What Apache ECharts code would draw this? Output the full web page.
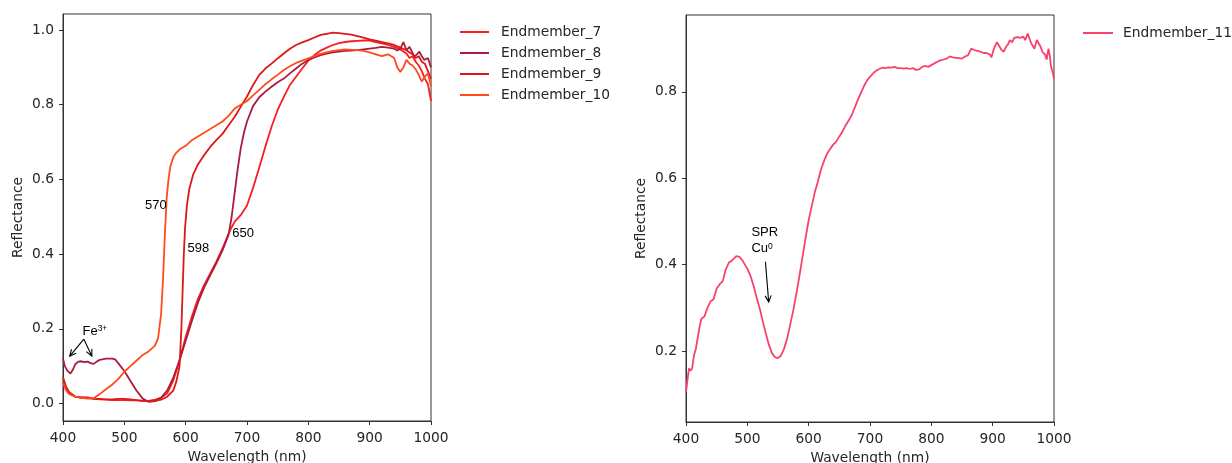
<!DOCTYPE html>
<html>
<head>
<meta charset="utf-8">
<script src="https://cdn.jsdelivr.net/npm/echarts@6/dist/echarts.min.js"></script>
<style>
html,body{margin:0;padding:0;background:#fff;}
#chart{width:1232px;height:463px;}
</style>
</head>
<body>
<div id="chart"></div>
<script>
// ---------- DATA ----------
const xTicks = [400, 500, 600, 700, 800, 900, 1000];
const yTicksLeft = [0.0, 0.2, 0.4, 0.6, 0.8, 1.0];
const yTicksRight = [0.2, 0.4, 0.6, 0.8];

const wl7 = [400,405,410,420,430,440,450,460,470,480,490,500,510,520,530,540,550,560,570,580,590,600,610,620,630,640,650,660,670,675,680,690,700,710,720,730,740,750,760,770,780,790,800,810,820,830,840,850,860,870,880,890,900,910,920,930,940,950,960,965,970,975,980,985,990,995,1000];
const r7  = [0.055,0.04,0.03,0.018,0.017,0.016,0.013,0.011,0.01,0.009,0.009,0.009,0.008,0.008,0.007,0.007,0.01,0.015,0.027,0.062,0.116,0.178,0.232,0.28,0.317,0.348,0.38,0.415,0.455,0.472,0.487,0.505,0.53,0.578,0.632,0.688,0.741,0.786,0.821,0.853,0.875,0.897,0.918,0.933,0.945,0.953,0.96,0.965,0.968,0.97,0.971,0.972,0.972,0.968,0.964,0.96,0.955,0.948,0.937,0.925,0.93,0.915,0.905,0.89,0.87,0.855,0.81];

const wl8 = [400,403,407,412,416,420,425,430,435,440,445,450,455,460,470,480,485,490,500,510,520,530,540,550,560,570,580,590,600,610,620,630,640,650,660,670,675,680,685,690,695,700,710,720,730,740,750,760,770,780,790,800,810,820,830,840,850,860,870,880,890,900,910,920,930,940,945,950,955,960,965,968,973,977,981,985,989,995,1000];
const r8  = [0.12,0.1,0.088,0.08,0.09,0.105,0.112,0.113,0.111,0.112,0.108,0.106,0.112,0.117,0.12,0.12,0.118,0.108,0.087,0.06,0.034,0.013,0.004,0.006,0.016,0.035,0.07,0.115,0.168,0.22,0.27,0.31,0.343,0.375,0.41,0.452,0.5,0.565,0.63,0.685,0.725,0.755,0.797,0.82,0.835,0.848,0.86,0.87,0.884,0.897,0.91,0.92,0.927,0.933,0.937,0.94,0.942,0.944,0.945,0.946,0.948,0.95,0.952,0.955,0.953,0.95,0.945,0.95,0.968,0.946,0.955,0.96,0.929,0.935,0.942,0.93,0.92,0.925,0.9];

const wl9 = [400,405,410,420,430,440,450,460,470,480,490,500,510,520,530,540,550,560,570,580,585,590,593,595,597,599,602,606,612,620,630,640,650,660,670,680,690,700,710,720,730,740,750,760,770,780,790,800,810,820,830,840,850,860,870,880,890,900,910,920,930,940,950,960,965,970,975,980,985,990,995,1000];
const r9  = [0.07,0.045,0.03,0.018,0.015,0.014,0.012,0.012,0.011,0.011,0.012,0.012,0.011,0.009,0.007,0.006,0.007,0.01,0.018,0.035,0.06,0.1,0.2,0.3,0.4,0.47,0.53,0.575,0.612,0.64,0.665,0.687,0.705,0.722,0.745,0.768,0.795,0.822,0.853,0.88,0.897,0.91,0.924,0.937,0.95,0.96,0.967,0.973,0.98,0.987,0.99,0.993,0.992,0.99,0.988,0.984,0.98,0.975,0.972,0.968,0.964,0.96,0.953,0.946,0.94,0.935,0.925,0.93,0.915,0.91,0.89,0.87];

const wl10 = [400,405,410,420,430,440,450,460,470,480,490,500,510,520,530,540,550,555,560,563,566,569,572,575,580,585,590,600,610,620,630,640,650,660,670,680,690,700,710,720,730,740,750,760,770,780,790,800,810,820,830,840,850,860,870,880,890,900,910,920,930,940,945,950,955,960,965,970,975,980,985,990,995,1000];
const r10  = [0.055,0.035,0.025,0.018,0.015,0.013,0.014,0.025,0.038,0.05,0.065,0.085,0.1,0.115,0.13,0.14,0.155,0.175,0.24,0.33,0.45,0.55,0.6,0.635,0.66,0.672,0.68,0.69,0.705,0.715,0.725,0.735,0.745,0.755,0.77,0.79,0.8,0.81,0.825,0.84,0.855,0.868,0.88,0.893,0.903,0.912,0.918,0.924,0.93,0.936,0.94,0.944,0.946,0.948,0.947,0.946,0.944,0.94,0.935,0.93,0.935,0.925,0.9,0.888,0.9,0.92,0.91,0.905,0.895,0.88,0.862,0.875,0.884,0.85];

const wl11 = [400,403,405,408,410,413,416,419,422,425,430,435,440,445,450,455,460,465,470,475,478,482,487,492,497,500,505,510,515,520,525,530,535,540,545,550,555,560,565,570,575,580,585,590,595,600,605,610,615,620,625,630,635,640,645,650,655,660,665,670,675,680,685,690,695,700,705,710,715,720,725,730,735,740,745,750,755,760,765,770,775,780,785,790,795,800,805,810,815,820,825,830,835,840,845,850,855,860,865,870,875,880,885,890,895,898,902,907,910,914,918,922,925,928,932,935,940,945,950,953,957,960,963,966,968,972,975,978,981,983,986,988,991,993,995,998,1000];
const r11  = [0.105,0.14,0.16,0.155,0.16,0.19,0.205,0.205,0.255,0.275,0.28,0.3,0.315,0.32,0.345,0.355,0.362,0.39,0.405,0.41,0.408,0.42,0.418,0.41,0.398,0.391,0.375,0.352,0.325,0.3,0.27,0.242,0.215,0.196,0.186,0.184,0.19,0.206,0.23,0.262,0.295,0.333,0.375,0.418,0.462,0.503,0.535,0.568,0.592,0.62,0.64,0.657,0.668,0.678,0.685,0.697,0.708,0.722,0.733,0.746,0.763,0.781,0.797,0.813,0.826,0.835,0.843,0.849,0.853,0.856,0.855,0.857,0.856,0.858,0.855,0.855,0.854,0.855,0.853,0.855,0.851,0.852,0.858,0.86,0.858,0.862,0.866,0.87,0.873,0.875,0.877,0.882,0.88,0.879,0.878,0.877,0.882,0.885,0.9,0.897,0.895,0.893,0.89,0.89,0.887,0.88,0.9,0.915,0.913,0.898,0.893,0.905,0.91,0.92,0.915,0.925,0.927,0.925,0.928,0.92,0.935,0.932,0.912,0.905,0.9,0.92,0.924,0.905,0.893,0.895,0.885,0.875,0.9,0.885,0.86,0.845,0.83];

const names = ['Endmember_7','Endmember_8','Endmember_9','Endmember_10','Endmember_11'];
const colors = ['#fb1d1d','#a91c3d','#dc1818','#ff4a1c','#f8426c'];

// annotation anchors (data coordinates)
const annLeft = [
  { t: '570', at: [569, 0.531], align: 'right' },
  { t: '598', at: [603, 0.415], align: 'left' },
  { t: '650', at: [676, 0.455], align: 'left' },
  { t: 'Fe{s|3+}', at: [452, 0.194], align: 'center' }
];
const annRight = [
  { t: 'SPR', at: [506.6, 0.475], align: 'left' },
  { t: 'Cu{s|0}', at: [506.6, 0.438], align: 'left' }
];
const arrowsLeft = [[[434, 0.172], [411, 0.127]], [[434, 0.172], [447, 0.127]]];
const arrowsRight = [[[529.5, 0.407], [534.8, 0.314]]];

// ---------- CHART ----------
const zip = (a, b) => a.map((x, i) => [x, b[i]]);
const tickFont = { fontFamily: 'DejaVu Sans', fontSize: 13.8, color: '#262626' };
const annFont = 'Liberation Sans';

function xAxisCfg(g) {
  return {
    gridIndex: g, type: 'value', min: 400, max: 1000, interval: 100,
    name: 'Wavelength (nm)', nameLocation: 'middle', nameGap: 29,
    nameTextStyle: tickFont,
    axisLine: { show: true, onZero: false, lineStyle: { color: '#333', width: 1 } },
    axisTick: { show: true, inside: false, length: 4, lineStyle: { color: '#333' }, customValues: xTicks },
    axisLabel: Object.assign({ margin: 10, customValues: xTicks, showMinLabel: true, showMaxLabel: true, formatter: v => String(v) }, tickFont),
    splitLine: { show: false }
  };
}
function yAxisCfg(g, mn, mx, ticks) {
  return {
    gridIndex: g, type: 'value', min: mn, max: mx,
    name: 'Reflectance', nameLocation: 'middle', nameGap: 38,
    nameTextStyle: tickFont,
    axisLine: { show: true, onZero: false, lineStyle: { color: '#333', width: 1 } },
    axisTick: { show: true, inside: false, length: 4, lineStyle: { color: '#333' }, customValues: ticks },
    axisLabel: Object.assign({ margin: 9, customValues: ticks, formatter: v => Number(v).toFixed(1) }, tickFont),
    splitLine: { show: false }
  };
}

const wls = [wl7, wl8, wl9, wl10, wl11];
const rs = [r7, r8, r9, r10, r11];
const series = names.map((n, i) => ({
  name: n, type: 'line',
  xAxisIndex: i < 4 ? 0 : 1, yAxisIndex: i < 4 ? 0 : 1,
  data: zip(wls[i], rs[i]),
  showSymbol: false, symbol: 'none',
  lineStyle: { width: 1.8, color: colors[i] },
  itemStyle: { color: colors[i] },
  z: 2 + i
}));

const legendText = { fontFamily: 'DejaVu Sans', fontSize: 13.8, color: '#262626', lineHeight: 16, padding: [0, 0, 0, 7] };
const option = {
  animation: false,
  backgroundColor: '#fff',
  grid: [
    { left: 63, top: 14, width: 368, height: 407, show: true, borderColor: '#333', borderWidth: 1, containLabel: false, outerBoundsMode: 'none' },
    { left: 686, top: 15, width: 368, height: 407, show: true, borderColor: '#333', borderWidth: 1, containLabel: false, outerBoundsMode: 'none' }
  ],
  xAxis: [xAxisCfg(0), xAxisCfg(1)],
  yAxis: [yAxisCfg(0, -0.047, 1.043, yTicksLeft), yAxisCfg(1, 0.036, 0.978, yTicksRight)],
  legend: [
    { data: names.slice(0, 4), orient: 'vertical', left: 460, top: 24, padding: 0, itemGap: 5,
      itemWidth: 29, itemHeight: 2, icon: 'rect', textStyle: legendText, selectedMode: false },
    { data: [names[4]], orient: 'vertical', left: 1083, top: 25, padding: 0, itemGap: 5,
      itemWidth: 30, itemHeight: 2, icon: 'rect', textStyle: Object.assign({}, legendText, { padding: [0, 0, 0, 5] }), selectedMode: false }
  ],
  series: series
};

const chart = echarts.init(document.getElementById('chart'), null, { renderer: 'canvas' });
chart.setOption(option);

const graphics = [];
function addAnn(list, g) {
  list.forEach(a => {
    const p = chart.convertToPixel({ gridIndex: g }, a.at);
    graphics.push({
      type: 'text', x: p[0], y: p[1], z: 50,
      style: {
        text: a.t, align: a.align, verticalAlign: 'middle',
        fontFamily: annFont, fontSize: 13, fill: '#000',
        rich: { s: { fontFamily: annFont, fontSize: 8.5, verticalAlign: 'top', fill: '#000', padding: [0, 0, 4, 0] } }
      }
    });
  });
}
function addArrows(list, g) {
  list.forEach(a => {
    const p0 = chart.convertToPixel({ gridIndex: g }, a[0]);
    const p1 = chart.convertToPixel({ gridIndex: g }, a[1]);
    const ang = Math.atan2(p1[1] - p0[1], p1[0] - p0[0]);
    const L = 7, spread = 0.45;
    const h1 = [p1[0] - L * Math.cos(ang - spread), p1[1] - L * Math.sin(ang - spread)];
    const h2 = [p1[0] - L * Math.cos(ang + spread), p1[1] - L * Math.sin(ang + spread)];
    const style = { stroke: '#000', lineWidth: 1.1, fill: null };
    graphics.push({ type: 'polyline', z: 50, shape: { points: [p0, p1] }, style: style });
    graphics.push({ type: 'polyline', z: 50, shape: { points: [h1, p1, h2] }, style: style });
  });
}
addAnn(annLeft, 0);
addAnn(annRight, 1);
addArrows(arrowsLeft, 0);
addArrows(arrowsRight, 1);
chart.setOption({ graphic: graphics });
</script>
</body>
</html>
